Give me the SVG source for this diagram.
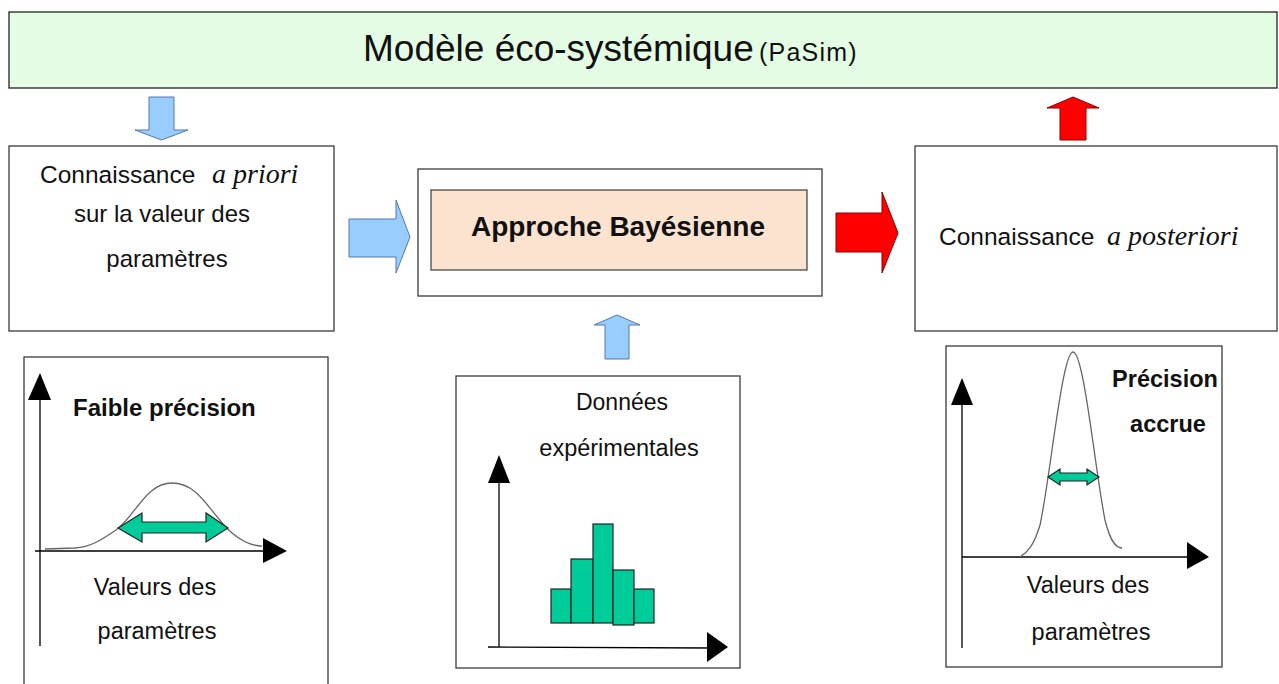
<svg xmlns="http://www.w3.org/2000/svg" width="1279" height="684" viewBox="0 0 1279 684">
<style>
.box{fill:#ffffff;stroke:#3a3a3a;stroke-width:1.3}
.t{font-family:"Liberation Sans",Arial,sans-serif;fill:#111}
.b{font-weight:bold}
.it{font-family:"Liberation Serif","Times New Roman",serif;font-style:italic;fill:#111}
.blue{fill:#99ccff;stroke:#5577aa;stroke-width:1}
.red{fill:#ff0000;stroke:#880000;stroke-width:1}
.grn{fill:#00cc99;stroke:#222;stroke-width:1.2}
.ax{stroke:#000;stroke-width:1.3;fill:none}
.hd{fill:#000}
.crv{fill:none;stroke:#666;stroke-width:1.3}
</style>
<rect width="1279" height="684" fill="#ffffff"/>

<g id="model">
<rect x="9" y="12" width="1268" height="76" fill="#e4fce4" stroke="#222" stroke-width="1.3"/>
<text class="t" x="363" y="61" font-size="37">Modèle éco-systémique</text>
<text class="t" x="759" y="61" font-size="25" letter-spacing="1.2">(PaSim)</text>
</g>

<g id="prior">
<rect class="box" x="9" y="146" width="325" height="185"/>
<text class="t" x="40" y="183" font-size="24.5">Connaissance</text>
<text class="it" x="212" y="183" font-size="28">a priori</text>
<text class="t" x="162" y="222" font-size="24" text-anchor="middle">sur la valeur des</text>
<text class="t" x="167" y="267" font-size="24" text-anchor="middle">paramètres</text>
</g>

<g id="bayes">
<rect class="box" x="418" y="169" width="404" height="127"/>
<rect x="431" y="190" width="376" height="80" fill="#fbe3cf" stroke="#3a3a3a" stroke-width="1.2"/>
<text class="t b" x="618" y="236" font-size="28" text-anchor="middle">Approche Bayésienne</text>
</g>

<g id="posterior">
<rect class="box" x="915" y="146" width="362" height="185"/>
<text class="t" x="939" y="245" font-size="24.5">Connaissance</text>
<text class="it" x="1107" y="245" font-size="28">a posteriori</text>
</g>

<g id="chart-prior">
<rect class="box" x="24" y="357" width="304" height="340"/>
<line class="ax" x1="40" y1="398" x2="40" y2="646"/>
<polygon class="hd" points="28,400 51,400 40,373"/>
<line class="ax" x1="35" y1="551" x2="265" y2="551"/>
<polygon class="hd" points="263,538 263,563 287,551"/>
<path class="crv" d="M45,549 L75,548 C90,547 100,541 116,530 C136,515 146,483 172,483 C200,483 210,514 232,533 C244,543 254,546 262,546"/>
<polygon class="grn" points="118,528 142,513 142,522 206,522 206,513 228,528 206,542 206,533 142,533 142,542"/>
<text class="t b" x="73" y="416" font-size="24">Faible précision</text>
<text class="t" x="155" y="595" font-size="23.5" text-anchor="middle">Valeurs des</text>
<text class="t" x="157" y="639" font-size="23.5" text-anchor="middle">paramètres</text>
</g>

<g id="data">
<rect class="box" x="456" y="376" width="284" height="292"/>
<text class="t" x="622" y="410" font-size="23" text-anchor="middle">Données</text>
<text class="t" x="619" y="456" font-size="23.5" text-anchor="middle">expérimentales</text>
<line class="ax" x1="499" y1="481" x2="499" y2="647"/>
<polygon class="hd" points="488,483 510,483 499,455"/>
<line class="ax" x1="488" y1="647" x2="709" y2="648"/>
<polygon class="hd" points="707,632 707,662 728,647"/>
<rect class="grn" x="551" y="589" width="20" height="34"/>
<rect class="grn" x="571" y="559" width="22" height="64"/>
<rect class="grn" x="593" y="524" width="20" height="99"/>
<rect class="grn" x="613" y="570" width="21" height="55"/>
<rect class="grn" x="634" y="589" width="20" height="34"/>
</g>

<g id="chart-posterior">
<rect class="box" x="946" y="346" width="276" height="321"/>
<line class="ax" x1="962" y1="403" x2="962" y2="648"/>
<polygon class="hd" points="951,405 973,405 962,378"/>
<line class="ax" x1="962" y1="557" x2="1189" y2="557"/>
<polygon class="hd" points="1187,542 1187,569 1209,557"/>
<path class="crv" d="M1020,557 C1028,552 1034,545 1040,525 C1050,480 1062,352 1073,352 C1084,352 1095,470 1105,520 C1110,540 1115,548 1122,548"/>
<polygon class="grn" points="1048,477 1060,469 1060,473 1087,473 1087,469 1099,477 1087,485 1087,481 1060,481 1060,485"/>
<text class="t b" x="1165" y="387" font-size="23.5" text-anchor="middle">Précision</text>
<text class="t b" x="1168" y="432" font-size="23.5" text-anchor="middle">accrue</text>
<text class="t" x="1088" y="593" font-size="23.5" text-anchor="middle">Valeurs des</text>
<text class="t" x="1091" y="640" font-size="23.5" text-anchor="middle">paramètres</text>
</g>

<g id="connectors">
<polygon class="blue" points="149,97 174,97 174,130 188,130 161.5,140 135,130 149,130"/>
<polygon class="blue" points="349,219 396,219 396,200 410,237 396,273 396,257 349,257"/>
<polygon class="blue" points="605,359 605,325 594,325 617,315 640,325 629,325 629,359"/>
<polygon class="red" points="836,213 882,213 882,192 898,233 882,273 882,252 836,252"/>
<polygon class="red" points="1060,140 1060,108 1047,108 1073,97 1099,108 1086,108 1086,140"/>
</g>
</svg>
